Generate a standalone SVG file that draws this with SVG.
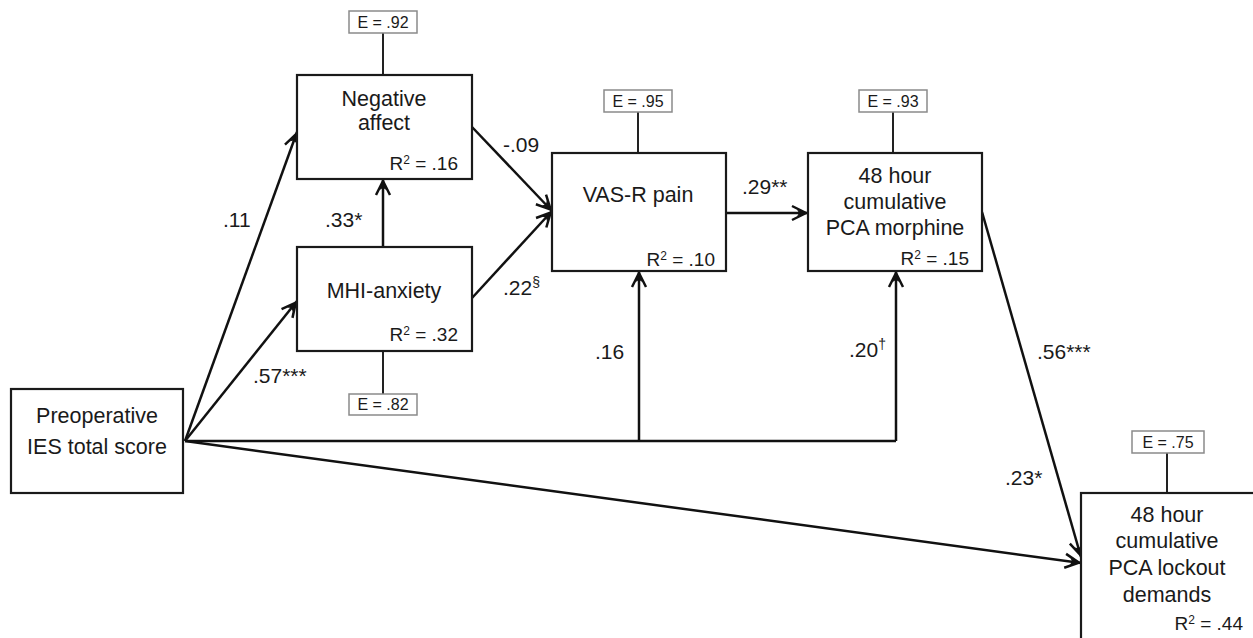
<svg xmlns="http://www.w3.org/2000/svg" width="1253" height="638" viewBox="0 0 1253 638">
<defs>
<style>
.box{fill:#fff;stroke:#1a1a1a;stroke-width:2.2}
.ebox{fill:#fff;stroke:#8a8a8a;stroke-width:1.5}
.t{font-family:"Liberation Sans",Arial,sans-serif;font-size:21.5px;fill:#1a1a1a;text-anchor:middle}
.r{font-size:19px;text-anchor:end}
.e{font-size:16px}
.lab{font-size:21px;text-anchor:start}
.c{stroke:#111;stroke-width:2.5;fill:none}
.ec{stroke:#222;stroke-width:2;fill:none}
.arr{marker-end:url(#ah)}
</style>
<marker id="ah" markerUnits="userSpaceOnUse" viewBox="-20 -10 24 20" refX="0" refY="0" markerWidth="24" markerHeight="20" orient="auto" overflow="visible">
<path d="M-16,-7 L-2,0 L-16,7" fill="none" stroke="#111" stroke-width="2.5"/>
<path d="M-2,0 L-11,-3.5 L-9,0 L-11,3.5 Z" fill="#111"/>
</marker>
</defs>
<rect width="1253" height="638" fill="#fff"/>

<g id="connectors">
<path class="c arr" d="M185,441 L297,132"/>
<path class="c arr" d="M185,441 L297,301"/>
<path class="c arr" d="M383,247 L383,179"/>
<path class="c arr" d="M472,127 L552,211"/>
<path class="c arr" d="M472,298 L552,211"/>
<path class="c arr" d="M726,213 L808,213"/>
<path class="c" d="M185,441 L896,441"/>
<path class="c arr" d="M639,441 L639,271"/>
<path class="c arr" d="M896,441 L896,271"/>
<path class="c arr" d="M982,212 L1081,557"/>
<path class="c arr" d="M185,441 L1081,563"/>
<path class="ec" d="M383,33 L383,75"/>
<path class="ec" d="M383,351 L383,394"/>
<path class="ec" d="M638,112 L638,153"/>
<path class="ec" d="M893,112 L893,153"/>
<path class="ec" d="M1167,453 L1167,493"/>
<g class="t lab">
<text class="t lab" x="223" y="227">.11</text>
<text class="t lab" x="253" y="383">.57***</text>
<text class="t lab" x="325" y="227">.33*</text>
<text class="t lab" x="503" y="152">-.09</text>
<text class="t lab" x="503" y="295">.22<tspan font-size="14" dy="-8">§</tspan></text>
<text class="t lab" x="742" y="194">.29**</text>
<text class="t lab" x="595" y="359">.16</text>
<text class="t lab" x="849" y="357">.20<tspan font-size="14" dy="-8">†</tspan></text>
<text class="t lab" x="1037" y="359">.56***</text>
<text class="t lab" x="1005" y="485">.23*</text>
</g>
</g>

<g id="preop">
<rect class="box" x="11" y="389" width="172" height="104"/>
<text class="t" x="97" y="423">Preoperative</text>
<text class="t" x="97" y="454">IES total score</text>
</g>

<g id="negaff">
<rect class="ebox" x="349" y="11" width="68" height="22"/>
<text class="t e" x="383" y="28">E = .92</text>
<rect class="box" x="297" y="75" width="175" height="104"/>
<text class="t" x="384" y="106">Negative</text>
<text class="t" x="384" y="130">affect</text>
<text class="t r" x="458" y="170">R<tspan font-size="12" dy="-6">2</tspan><tspan dy="6"> = .16</tspan></text>
</g>

<g id="mhi">
<rect class="box" x="297" y="247" width="175" height="104"/>
<text class="t" x="384" y="298">MHI-anxiety</text>
<text class="t r" x="458" y="341">R<tspan font-size="12" dy="-6">2</tspan><tspan dy="6"> = .32</tspan></text>
<rect class="ebox" x="349" y="394" width="68" height="21"/>
<text class="t e" x="383" y="410">E = .82</text>
</g>

<g id="vas">
<rect class="ebox" x="604" y="90" width="68" height="22"/>
<text class="t e" x="638" y="107">E = .95</text>
<rect class="box" x="552" y="153" width="174" height="118"/>
<text class="t" x="638" y="202">VAS-R pain</text>
<text class="t r" x="715" y="266">R<tspan font-size="12" dy="-6">2</tspan><tspan dy="6"> = .10</tspan></text>
</g>

<g id="morphine">
<rect class="ebox" x="859" y="90" width="68" height="22"/>
<text class="t e" x="893" y="107">E = .93</text>
<rect class="box" x="808" y="153" width="174" height="118"/>
<text class="t" x="895" y="183">48 hour</text>
<text class="t" x="895" y="209">cumulative</text>
<text class="t" x="895" y="235">PCA morphine</text>
<text class="t r" x="969" y="265">R<tspan font-size="12" dy="-6">2</tspan><tspan dy="6"> = .15</tspan></text>
</g>

<g id="lockout">
<rect class="ebox" x="1132" y="431" width="72" height="22"/>
<text class="t e" x="1168" y="448">E = .75</text>
<rect class="box" x="1081" y="493" width="200" height="200"/>
<text class="t" x="1167" y="522">48 hour</text>
<text class="t" x="1167" y="548">cumulative</text>
<text class="t" x="1167" y="575">PCA lockout</text>
<text class="t" x="1167" y="602">demands</text>
<text class="t r" x="1243" y="630">R<tspan font-size="12" dy="-6">2</tspan><tspan dy="6"> = .44</tspan></text>
</g>
</svg>
